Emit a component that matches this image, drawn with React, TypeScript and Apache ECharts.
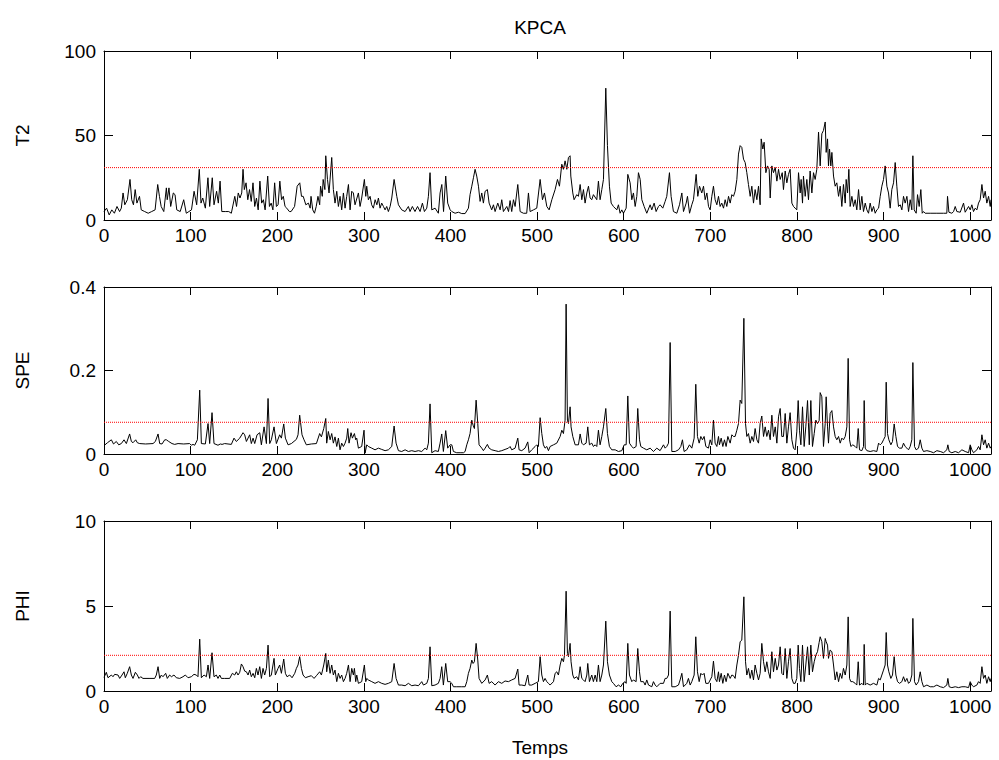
import React, { useEffect, useRef } from "react";
import * as echarts from "echarts";

// Monitoring statistics (sample index, value)
const t2Values: number[][] = [
  [0,5],[3,7],[6,3],[9,6],[12,4],[15,8],[18,5],[20,7],[22,16],[24,9],[27,12],[30,24],[32,12],[34,9],[36,18],[38,10],[41,14],[43,6],[47,5],[51,4],[55,5],[59,6],[62,21],[64,14],[66,8],[69,5],[72,19],[73,12],[75,19],[77,8],[80,16],[82,15],[84,6],[88,5],[92,12],[95,4],[98,5],[101,6],[104,17],[107,9],[110,30],[112,10],[114,13],[117,7],[120,25],[122,8],[125,25],[127,9],[130,17],[132,10],[134,23],[136,5],[140,5],[144,5],[147,4],[151,14],[153,8],[155,16],[157,13],[159,16],[160.5,30],[162,18],[164,22],[166,12],[168,18],[170,11],[172,22],[174,8],[176,13],[178,6],[180,23],[182,10],[184,12],[186,6],[189,26],[191,8],[193,10],[195,6],[197,22],[199,8],[201,9],[203,23],[205,12],[207,14],[209,8],[211,7],[214,5],[216,5],[220,8],[223,20],[226,22],[228,14],[230,14],[233,9],[236,10],[238,7],[239,14],[241,6],[243,4],[245,8],[247,14],[249,9],[250,20],[252,14],[253,24],[255,18],[256,38],[258,24],
  [259.8,16],[262.9,37],[264.8,18],[266.7,10],[268.7,17],[270.6,8],[272.5,14],[274.4,6],[276.4,16],[278.3,7],[280.2,14],[282.2,21],[284.1,6],[286,17],[287.9,16],[289.8,9],[293.7,16],[295.6,8],[297.5,13],[300.6,24],[302.2,14],[303.3,20],[305.2,12],[307.2,14],[309,9],[311,7],[313,12],[315,9],[316.8,13],[318.7,7],[320.6,10],[322.6,8],[324.5,6],[326.4,8],[328.3,5],[330.3,8],[332.2,13],[334.9,24],[338,14],[339.9,9],[343.7,6],[347.6,5],[351.4,8],[353.3,5],[356,8],[359,5],[362,8],[364.9,5],[367.6,10],[369.9,5],[372.6,7],[374.5,14],[376.4,28],[378.4,6],[382.2,7],[386,4],[388,16],[390,21],[392,5],[394.5,26],[396.8,10],[399.6,6],[401.5,5],[405.3,4],[409.2,4.6],[413,3.8],[416.9,3.8],[420.7,7],[422.6,15],[424.6,20],[426.5,25],[428.4,30],[430.3,26],[432.3,20],[434.2,11],[436.1,16],[438,10],[440,17],[442.6,18],[444.6,10],[447.6,6],[449.6,9],[451.5,5],[454.6,10],[457.3,6],[459.2,12],[461.1,5],[465,8],[467,5],[468.8,11.5],[470.7,5],[472.7,12],[474.6,8],[477.7,21],[480.4,5],[484.2,4],[488,4],[490,16],[491.9,5],[495.8,6],[499.6,7],[503.5,24],[506.2,12],[508.5,16],[511.2,8],[513.9,6],
  [517,12],[520.8,18],[523.5,24],[525.8,20],[528.5,33],[530.4,30],[532.3,35],[534.3,30],[536.2,37],[538.1,38],[538.9,26],[541.2,16],[542.7,12],[545.8,15],[547.7,14],[549.7,21],[551.6,12],[553.5,18],[555.4,10],[557.4,16],[559.3,20],[561.2,13],[563.1,12],[565,15],[568.9,12],[570.8,23],[572.7,12],[574.7,18],[576.6,24],[579.3,78],[581.2,44],[583.5,20],[585.5,10],[588.1,8],[592,6],[593.9,9],[595.8,4],[597.8,6],[599.7,4],[602.8,7],[604.7,27],[607.4,22],[609.3,12],[611.2,16],[613.2,8],[615.1,14],[617,28],[619,24],[620.9,12],[623.6,8],[626.6,4],[630.5,9],[632.4,6],[635.1,10],[637.4,5],[640.1,8],[642,9],[645.1,7],[647.8,11],[649.7,14],[652.8,28],[654.7,14],[657.4,5],[661.3,4],[664.4,9],[667.1,16],[669,5],[672.1,10],[673.6,14],[676,4],[678.6,9],[680.5,12],[683.6,27],[685.5,14],[687.5,20],[690.1,16],[692.1,20],[694,12],[696,16],[697.9,8],[699.8,6],[701.7,14],[703.6,20],[705.5,12],[707.5,9],[709.4,14],[711.3,8],[713.2,10],[715.2,7],[717.1,12],[719,8],[721,14],[722.9,10],[724.8,15],[726.7,14],[728.6,17],[730.6,24],[732.5,39],[734.4,44],[736.3,43],[738.3,36],[740.2,34],[742.1,28],[744,21],[746,14],[747.9,20],[749.8,10],[751.7,18],[753.7,12],[755.6,20],[757.5,9],[758.7,48],[760.6,42],[762.1,46],[764.1,28],[766,32],[767.9,30],[769.1,13],[771,32],[772.9,28],[774.9,31],[776.8,23],[778.7,30],[780.6,24],[783,28],
  [784.4,18],[786.4,29],[788.3,22],[790.2,27],[792.1,30],[794.1,10],[796,8],[797.9,7],[799.8,6],[801.8,28],[803.7,16],[804.8,24],[806.4,10],[807.5,26],[809.5,14],[811.4,24],[813.3,12],[815.2,29],[817.2,16],[819.1,28],[821,24],[822.9,30],[824.9,52],[826.8,32],[828.7,51],[830.6,53],[832.6,58],[833.7,40],[835.3,48],[836.4,32],[837.6,42],[839.1,32],[840.3,40],[842.2,26],[844.1,20],[846,22],[848,14],[849.9,20],[851.8,8],[853.7,21],[855.7,10],[856.8,24],[858.4,16],[859.9,30],[861.4,8],[863.4,14],[865.3,8],[867.2,12],[869.1,6],[871.1,18],[873,6],[874.9,14],[876.8,5],[878.8,10],[880.7,6],[882.6,4],[884.5,10],[886.5,5],[888.4,8],[890.3,4],[892.2,6],[894.2,7],[896.1,14],[898,20],[899.9,24],[901.8,32],[903.8,20],[905.7,16],[907.6,7],[909.5,18],[911.5,22],[913.4,34],[915.3,20],[917.2,8],[919.2,9],[921.1,6],[923,14],[924.9,10],[926.9,14],[928.8,5],[930.7,12],[932.6,6],[933.8,38],[935.3,6],[937.6,4],[939.2,15],[941.1,8],[943,18],[944.6,4],[946.1,5],[948,4],[953.8,4],[961.5,4],[969.2,4],[973,4],[973.8,14],[975.4,4.6],[978.8,4],[980.8,5],[982.7,8],[984.6,5],[988.5,4.6],[992.3,10],[994.2,4.6],[998.1,8],[1000,6],[1001.9,9],[1003.8,5],[1005.8,7],[1007.7,6],[1009.6,10],[1011.5,12],[1013.5,21],[1015.4,13],[1017.3,17],[1019.2,10],[1021.2,14],[1023.1,8],[1024,12]
];

const speValues: number[][] = [
  [0,0.02],[4,0.027],[8.5,0.034],[11,0.024],[14.2,0.03],[17,0.022],[20,0.025],[23.1,0.034],[25.8,0.025],[29.6,0.048],[31.6,0.03],[33.5,0.027],[36.6,0.034],[38.5,0.027],[41.2,0.025],[48,0.024],[56.6,0.025],[59.3,0.03],[62.4,0.048],[64.3,0.025],[67,0.024],[70.1,0.034],[72,0.034],[74.7,0.03],[78.5,0.025],[81.6,0.023],[85.5,0.025],[92,0.024],[98.9,0.025],[100.8,0.021],[102.8,0.023],[104.7,0.021],[107.8,0.034],[110.5,0.153],[112.4,0.025],[117,0.024],[120.1,0.073],[122,0.025],[124.7,0.099],[127,0.025],[131.6,0.021],[134.3,0.024],[136.3,0.023],[139.3,0.025],[147,0.023],[150.1,0.038],[152.8,0.03],[156.7,0.038],[160.5,0.051],[162.4,0.046],[164.4,0.03],[168.2,0.046],[170.1,0.025],[172.1,0.038],[174,0.025],[176.7,0.046],[179.8,0.051],[181.7,0.022],[184.8,0.065],[187.5,0.025],[189.4,0.133],[191.3,0.025],[193.2,0.034],[196.3,0.065],[199,0.025],[202.8,0.046],[204.8,0.038],[207.5,0.072],[209.4,0.038],[212.5,0.022],[216.3,0.025],[222.1,0.035],[224,0.046],[225.9,0.093],[228.6,0.046],[230.9,0.034],[233.6,0.022],[239.4,0.024],[245.2,0.025],[249,0.049],[251,0.041],[253.7,0.061],[256,0.085],
  [257.1,0.026],[259,0.054],[261,0.034],[262.9,0.049],[264.8,0.026],[266.7,0.041],[268.7,0.018],[270.6,0.038],[272.5,0.01],[274.4,0.026],[276.4,0.018],[278.3,0.026],[280.2,0.038],[281.4,0.061],[282.9,0.026],[285.2,0.051],[286.8,0.038],[289.1,0.049],[290.6,0.034],[291.8,0.038],[293.7,0.014],[297.5,0.018],[300.2,0.057],[301.4,0.002],[303.3,0.022],[305.2,0.018],[309.1,0.014],[312.9,0.01],[316.8,0.014],[320.6,0.011],[324.5,0.008],[328.3,0.01],[332.2,0.018],[334.9,0.067],[337.2,0.026],[339.9,0.008],[343.7,0.006],[347.6,0.01],[351.4,0.006],[355.3,0.008],[359.1,0.006],[363,0.008],[366.8,0.006],[370.7,0.014],[372.6,0.01],[374.5,0.026],[376.4,0.12],[378.4,0.003],[382.2,0.008],[386,0.006],[388,0.026],[389.9,0.048],[391.8,0.006],[394.5,0.056],[396.8,0.014],[399.5,0.022],[401.5,0.022],[403.4,0.006],[407.2,0.003],[411.1,0.003],[415,0.003],[416.9,0.006],[418.8,0.022],[420.7,0.034],[422.6,0.049],[424.6,0.081],[426.1,0.069],[427.6,0.061],[429.6,0.129],[431.5,0.073],[433,0.022],[436.1,0.014],[438,0.008],[440,0.014],[442.6,0.023],[444.6,0.014],[447.6,0.01],[451.5,0.008],[455.3,0.006],[459.2,0.008],[463,0.011],[466.9,0.014],[468.8,0.018],[470.7,0.01],[474.6,0.014],[477.7,0.038],[479.2,0.01],[482.3,0.008],[486.1,0.014],[489.2,0.029],[490.8,0.003],[493.8,0.01],[497.7,0.018],[499.6,0.022],[501.5,0.018],[503.5,0.087],[505.4,0.049],[507.3,0.022],[509.2,0.014],[511.2,0.018],[513.1,0.008],
  [515,0.018],[518.9,0.022],[522.7,0.026],[526.6,0.042],[528.5,0.057],[530.4,0.049],[532.3,0.081],[533.5,0.359],[535,0.081],[536.2,0.073],[538.1,0.113],[539.2,0.065],[541.2,0.042],[543.9,0.022],[547.7,0.022],[549.7,0.048],[551.6,0.026],[553.5,0.022],[556.6,0.026],[558.5,0.065],[560.4,0.022],[563.1,0.026],[565,0.018],[567,0.022],[568.9,0.018],[570.8,0.057],[572.7,0.022],[574.7,0.042],[576.6,0.065],[579.3,0.109],[581.2,0.049],[583.5,0.018],[586.2,0.01],[590.1,0.01],[593.9,0.006],[597.8,0.008],[600.5,0.022],[602.8,0.022],[604.7,0.139],[606.6,0.026],[609.3,0.018],[611.2,0.014],[614.3,0.018],[616.2,0.109],[618.2,0.034],[619.7,0.018],[622.8,0.014],[626.6,0.01],[630.5,0.014],[634.3,0.006],[638.2,0.014],[642,0.008],[645.9,0.022],[647.8,0.014],[649.7,0.018],[651.7,0.026],[653.6,0.267],[655.5,0.006],[659.4,0.006],[663.2,0.01],[665.9,0.018],[667.8,0.034],[669.7,0.006],[672.8,0.01],[675.9,0.022],[678.6,0.014],[681.3,0.038],[683.2,0.167],[685.1,0.042],[687.1,0.026],[689,0.042],[690.9,0.034],[692.8,0.042],[694.8,0.018],[697.8,0.014],[699.8,0.034],[701.7,0.022],[703.6,0.081],[705.5,0.026],[707.5,0.018],[709.4,0.042],[710.5,0.022],[712.5,0.038],[714.4,0.018],[716.3,0.034],[718.2,0.018],[720.2,0.042],[722.9,0.026],[724.8,0.046],[726.7,0.042],[728.6,0.042],[730.6,0.057],[732.5,0.073],[734.4,0.129],[736.3,0.121],[738.7,0.325],[740.6,0.073],[742.1,0.042],[744,0.049],[746,0.026],[747.9,0.042],[749.8,0.03],[751.7,0.061],[753.7,0.034],[755.6,0.026],[757.5,0.073],[759.4,0.091],[761.4,0.042],[763.3,0.065],[765.2,0.042],[767.1,0.057],[769.1,0.034],[771,0.093],[772.9,0.042],[774.9,0.065],[776.8,0.026],[778.7,0.089],[780.6,0.109],[782.5,0.042],
  [784.4,0.042],[786.4,0.097],[788.3,0.026],[790.2,0.065],[792.1,0.099],[794.1,0.034],[796,0.014],[797.9,0.01],[799.8,0.053],[801.4,0.128],[802.9,0.057],[804.5,0.022],[806.4,0.113],[808.3,0.018],[810.2,0.065],[812.2,0.128],[814.2,0.022],[816,0.128],[817.9,0.018],[819.9,0.049],[821.8,0.081],[823.7,0.073],[825.6,0.08],[826.8,0.147],[828.7,0.137],[830.6,0.018],[832.6,0.073],[833.7,0.137],[835.3,0.065],[836.4,0.026],[838.3,0.097],[840.3,0.104],[842.2,0.065],[844.1,0.042],[846,0.034],[848,0.042],[849.9,0.026],[851.8,0.038],[853.7,0.034],[855.7,0.042],[857.6,0.065],[859.1,0.229],[860.7,0.034],[862.2,0.018],[864.5,0.022],[867.2,0.018],[869.1,0.014],[870.7,0.061],[872.2,0.01],[874.9,0.008],[876.8,0.018],[877.6,0.128],[878.8,0.014],[880.7,0.008],[884.5,0.006],[888.4,0.008],[892.2,0.006],[894.2,0.026],[896.1,0.022],[898,0.026],[899.9,0.034],[901.8,0.042],[903,0.172],[904.5,0.049],[906.1,0.034],[908.4,0.022],[910.3,0.03],[912.2,0.072],[914.2,0.042],[916.1,0.018],[918.4,0.014],[921.1,0.014],[923,0.026],[924.9,0.018],[926.9,0.014],[928.8,0.01],[930.7,0.018],[932.6,0.034],[933.8,0.219],[935.7,0.018],[937.6,0.01],[940.3,0.014],[942.3,0.034],[944.2,0.014],[946.1,0.006],[950,0.008],[953.8,0.006],[957.7,0.003],[961.5,0.008],[965.4,0.006],[969.2,0.003],[973,0.01],[974.2,0.022],[975.7,0.006],[978.8,0.003],[982.7,0.006],[986.5,0.003],[990.4,0.01],[994.2,0.006],[998.1,0.003],[1000,0.022],[1001.9,0.01],[1003.8,0.003],[1007.7,0.01],[1009.6,0.018],[1011.5,0.01],[1013.5,0.046],[1015.4,0.022],[1017.3,0.034],[1019.2,0.014],[1021.2,0.026],[1023.1,0.014],[1024,0.018]
];

const phiValues: number[][] = [
  [0,0.8],[2.7,1.1],[4.6,0.78],[8.5,0.94],[10.4,0.84],[12.3,0.98],[16.2,0.94],[18.1,0.74],[20.8,0.94],[23.1,1.13],[24.6,0.78],[26.9,1.04],[29.6,1.43],[31.6,0.94],[33.5,0.74],[36.2,1.1],[38.5,0.94],[40.4,0.74],[42.3,0.84],[45,0.74],[52,0.74],[58.5,0.74],[60.4,0.94],[62.4,1.43],[64.3,0.74],[66.2,0.94],[68.1,0.84],[71.2,1.04],[73.1,0.74],[75.8,0.94],[77.8,0.84],[80.8,0.94],[83.5,0.78],[87.4,0.74],[91.2,0.84],[93.9,0.94],[97,0.78],[100.8,0.84],[103.9,0.98],[106.6,0.94],[108.5,0.84],[110.5,3.05],[112.4,0.78],[115.5,0.94],[118.2,0.84],[120.1,1.53],[122,0.74],[124.7,2.25],[127,0.84],[129.7,0.94],[131.6,0.74],[133.6,0.94],[135.5,0.74],[139.3,0.74],[145.1,0.74],[148.2,1.04],[150.9,0.94],[152.8,1.13],[154.7,0.94],[156.7,1.1],[158.6,1.59],[160.5,1.43],[162.4,1.17],[164.4,1.13],[166.3,0.94],[168.2,1.23],[170.1,0.84],[172.1,1.04],[174,0.78],[175.9,1.33],[177.8,0.94],[179.8,1.43],[181.7,0.74],[183.6,1.33],[185.5,0.94],[187.5,1.33],[189.4,2.7],[191.3,0.84],[193.2,0.94],[196.3,1.92],[197.8,0.94],[200.9,1.33],[202.8,1.53],[204.8,1.04],[207.5,1.88],[209.4,1.04],[211.3,0.84],[214.4,0.94],[217.1,0.78],[220.2,1.04],[222.1,1.33],[224,1.53],[225.9,2.02],[227.9,1.33],[229.8,0.94],[232.5,0.78],[235.6,0.84],[239.4,0.9],[242.5,0.74],[245.2,0.9],[249,1.13],[251,0.94],[253.7,1.53],[256,2.21],
  [257.1,1.13],[259,1.82],[261,1.04],[262.9,1.53],[264.8,0.94],[266.7,1.23],[268.7,0.55],[270.6,1.04],[272.5,0.74],[274.4,0.94],[276.4,0.55],[278.3,0.74],[280.2,1.04],[282.2,1.53],[284.1,0.55],[286,1.33],[287.9,0.94],[289.1,1.33],[290.6,0.55],[291.8,0.94],[293.7,0.45],[297.5,0.55],[300.6,1.53],[302.2,0.55],[303.3,0.74],[305.2,0.65],[309.1,0.55],[312.9,0.45],[316.8,0.55],[320.6,0.45],[324.5,0.39],[328.3,0.45],[332.2,0.55],[334.9,1.62],[337.2,0.74],[339.9,0.35],[343.7,0.35],[347.6,0.31],[351.4,0.45],[355.3,0.31],[359.1,0.35],[363,0.31],[366.8,0.55],[368.8,0.35],[372.6,0.45],[374.5,0.74],[376.4,2.6],[378.4,0.31],[382.2,0.35],[386,0.45],[388,0.74],[389.9,1.43],[391.8,0.35],[394.5,1.62],[396.8,0.55],[399.5,0.55],[401.5,0.45],[403.4,0.25],[407.2,0.25],[413,0.25],[416.9,0.25],[418.8,0.55],[420.7,1.04],[422.6,1.33],[424.6,1.82],[426.1,1.62],[427.6,1.72],[429.6,2.8],[431.5,1.82],[433,0.74],[436.1,0.45],[440,0.65],[442.6,0.94],[444.6,0.45],[447.6,0.55],[451.5,0.35],[455.3,0.55],[459.2,0.45],[463,0.59],[466.9,0.55],[470.7,0.65],[474.6,0.74],[477.7,1.29],[479.2,0.35],[482.3,0.35],[486.1,0.31],[489.2,0.94],[490.8,0.35],[493.8,0.35],[497.7,0.45],[501.5,0.55],[503.5,2.02],[505.4,0.94],[507.3,0.55],[509.2,0.74],[511.2,0.55],[513.1,0.45],
  [515,0.35],[518.9,0.55],[520.8,1.04],[522.7,1.13],[524.6,0.94],[526.6,1.53],[528.5,1.92],[530.4,1.72],[531.6,2.11],[533.5,5.87],[535,2.21],[536.2,2.02],[538.1,2.8],[539.2,1.72],[541.2,0.94],[542.7,0.74],[545.8,0.84],[547.7,0.65],[549.7,1.43],[551.6,0.74],[553.5,0.65],[555.4,0.55],[557.4,0.94],[558.5,1.62],[560.4,0.55],[563.1,0.94],[565,0.55],[567,0.94],[568.9,0.55],[570.8,1.53],[572.7,0.55],[574.7,0.94],[576.6,1.53],[579.3,4.11],[581.2,1.72],[583.5,0.94],[586.2,0.55],[588.1,0.45],[591.2,0.25],[593.9,0.35],[596.6,0.25],[598.9,0.45],[601.6,0.55],[602.8,0.45],[604.7,2.8],[606.6,0.94],[609.3,0.55],[611.2,0.65],[614.3,0.55],[616.2,2.5],[618.2,1.13],[619.7,0.55],[622.8,0.55],[624.7,0.35],[626.6,0.65],[628.6,0.35],[632.4,0.25],[634.3,0.55],[636.3,0.35],[638.2,0.25],[642,0.45],[645.9,0.45],[647.8,0.74],[649.7,0.74],[651.7,0.94],[653.6,4.7],[655.5,0.25],[659.4,0.25],[663.2,0.35],[665.1,0.65],[667.1,1.04],[669,0.25],[672.8,0.45],[674.7,0.74],[676.7,0.35],[678.6,0.55],[681.3,0.94],[683.2,3.19],[685.1,1.13],[687.1,0.55],[689,1.04],[690.9,0.94],[692.8,1.04],[694.8,0.45],[697.8,0.45],[699.8,0.65],[701.7,0.84],[703.6,1.76],[705.5,0.74],[707.5,0.55],[709.4,1.13],[710.5,0.55],[712.5,1.04],[714.4,0.45],[716.3,0.94],[718.2,0.55],[720.2,1.04],[722.9,0.74],[724.8,0.94],[726.7,0.9],[728.6,0.74],[730.6,1.53],[732.5,2.11],[734.4,2.9],[736.3,2.99],[738.7,5.54],[740.6,1.72],[742.1,0.94],[744,1.33],[746,0.74],[747.9,1.23],[749.8,0.65],[751.7,1.53],[753.7,1.04],[755.6,0.65],[757.5,1.04],[759.4,2.8],[761.4,1.72],[763.3,1.13],[765.2,1.72],[767.1,1.13],[769.1,0.74],[771,2.31],[772.9,1.13],[774.9,1.92],[776.8,1.23],[778.7,1.53],[780.6,2.6],[782.5,1.04],
  [784.4,0.94],[786.4,2.5],[788.3,0.74],[790.2,1.72],[792.1,2.5],[794.1,0.74],[796,0.45],[797.9,0.45],[799.8,0.74],[801.4,2.7],[802.9,1.33],[804.5,0.55],[806.4,2.7],[808.3,0.55],[810.2,1.53],[812.2,2.6],[814.2,0.94],[816,2.7],[817.9,1.13],[819.9,1.72],[821.8,2.11],[823.7,2.31],[825.6,2.86],[826.8,3.19],[828.7,2.9],[830.6,1.92],[832.6,3.09],[833.7,2.9],[835.3,2.7],[836.4,1.92],[838.3,2.41],[840.3,2.31],[842.2,1.53],[844.1,0.65],[846,1.13],[848,0.55],[849.9,1.04],[851.8,0.74],[853.7,1.33],[855.7,0.94],[857.6,1.53],[859.1,4.36],[860.7,0.74],[862.2,0.55],[864.5,0.55],[867.2,0.45],[869.1,0.35],[870.7,1.72],[872.2,0.35],[874.9,0.45],[876.8,0.35],[877.6,2.74],[878.8,0.35],[880.7,0.45],[884.5,0.35],[888.4,0.45],[892.2,0.35],[894.2,0.74],[896.1,0.65],[898,0.94],[899.9,1.23],[901.8,1.53],[903,3.44],[904.5,1.53],[906.1,1.13],[908.4,0.74],[910.3,0.94],[912.2,2.02],[914.2,0.94],[916.1,0.55],[918.4,0.45],[921.1,0.55],[923,0.84],[924.9,0.55],[926.9,0.74],[928.8,0.45],[930.7,0.55],[932.6,0.94],[933.8,4.27],[935.7,0.55],[937.6,0.35],[940.3,0.55],[942.3,1.13],[944.2,0.55],[946.1,0.25],[950,0.35],[953.8,0.25],[957.7,0.25],[961.5,0.35],[965.4,0.25],[969.2,0.2],[973,0.35],[974.2,0.74],[975.7,0.25],[978.8,0.2],[982.7,0.25],[986.5,0.2],[990.4,0.25],[994.2,0.25],[998.1,0.2],[1000,0.55],[1001.9,0.35],[1003.8,0.25],[1007.7,0.35],[1009.6,0.55],[1011.5,0.45],[1013.5,1.43],[1015.4,0.74],[1017.3,0.94],[1019.2,0.45],[1021.2,0.84],[1023.1,0.55],[1024,0.74]
];

// Control limits
const t2Limit = 31;
const speLimit = 0.076;
const phiLimit = 2.1;

const panelNames = ["T2", "SPE", "PHI"];
const yMins = [0, 0, 0];
const yMaxs = [100, 0.4, 10];
const yIntervals = [50, 0.2, 5];
const xMin = 0;
const xMax = 1024;
const xInterval = 100;
const chartTitle = "KPCA";
const xName = "Temps";

const FONT = "'Liberation Sans', Arial, sans-serif";
const FS = 19;

export default function App() {
  const ref = useRef<HTMLDivElement>(null);

  useEffect(() => {
    if (!ref.current) return;
    const chart = echarts.init(ref.current, undefined, { renderer: "svg" });

    const grids = [
      { left: 104, width: 887, top: 51, height: 169 },
      { left: 104, width: 887, top: 287, height: 167 },
      { left: 104, width: 887, top: 521, height: 170 },
    ];

    const xAxes: any[] = [];
    const yAxes: any[] = [];
    grids.forEach((_, i) => {
      const baseX = {
        type: "value",
        gridIndex: i,
        min: xMin,
        max: xMax,
        interval: xInterval,
        axisLine: { show: true, onZero: false, lineStyle: { color: "#000", width: 1 } },
        axisTick: { show: true, inside: true, length: 8, lineStyle: { color: "#000", width: 1 } },
        splitLine: { show: false },
      };
      xAxes.push({
        ...baseX,
        position: "bottom",
        axisLabel: {
          show: true,
          margin: 6,
          color: "#000",
          fontSize: FS,
          fontFamily: FONT,
          showMaxLabel: false,
          formatter: (v: number) => String(v),
        },
      });
      xAxes.push({ ...baseX, position: "top", axisLabel: { show: false } });

      const baseY = {
        type: "value",
        gridIndex: i,
        min: yMins[i],
        max: yMaxs[i],
        interval: yIntervals[i],
        axisLine: { show: true, onZero: false, lineStyle: { color: "#000", width: 1 } },
        axisTick: { show: true, inside: true, length: 9, lineStyle: { color: "#000", width: 1 } },
        splitLine: { show: false },
      };
      yAxes.push({
        ...baseY,
        position: "left",
        axisLabel: {
          show: true,
          margin: 8,
          color: "#000",
          fontSize: FS,
          fontFamily: FONT,
          formatter: (v: number) => String(Math.round(v * 1000) / 1000),
        },
      });
      yAxes.push({ ...baseY, position: "right", axisLabel: { show: false } });
    });

    const datasets = [t2Values, speValues, phiValues];
    const limits = [t2Limit, speLimit, phiLimit];
    const series: any[] = [];
    datasets.forEach((d, i) => {
      series.push({
        type: "line",
        xAxisIndex: i * 2,
        yAxisIndex: i * 2,
        data: d,
        showSymbol: false,
        symbol: "none",
        lineStyle: { color: "#000", width: 1 },
        silent: true,
      });
      series.push({
        type: "line",
        xAxisIndex: i * 2,
        yAxisIndex: i * 2,
        data: [[xMin, limits[i]], [xMax, limits[i]]],
        showSymbol: false,
        symbol: "none",
        lineStyle: { color: "#ff0000", width: 1, type: "dotted" },
        silent: true,
      });
    });

    const centers = grids.map((g) => g.top + g.height / 2);
    const textStyle = (text: string) => ({
      text,
      font: `${FS}px ${FONT}`,
      fill: "#000",
      align: "center",
      verticalAlign: "middle",
      textAlign: "center",
      textVerticalAlign: "middle",
    });
    const graphics: any[] = [
      { type: "text", x: 540, y: 27, style: textStyle(chartTitle) },
      { type: "text", x: 540, y: 747, style: textStyle(xName) },
      ...panelNames.map((n, i) => ({
        type: "text",
        x: 22,
        y: centers[i],
        rotation: Math.PI / 2,
        style: textStyle(n),
      })),
    ];

    chart.setOption({
      animation: false,
      backgroundColor: "#fff",
      grid: grids,
      xAxis: xAxes,
      yAxis: yAxes,
      series,
      graphic: graphics,
    });

    return () => {
      chart.dispose();
    };
  }, []);

  return (
    <div
      ref={ref}
      style={{ position: "absolute", left: 0, top: 0, width: 999, height: 760 }}
    />
  );
}
